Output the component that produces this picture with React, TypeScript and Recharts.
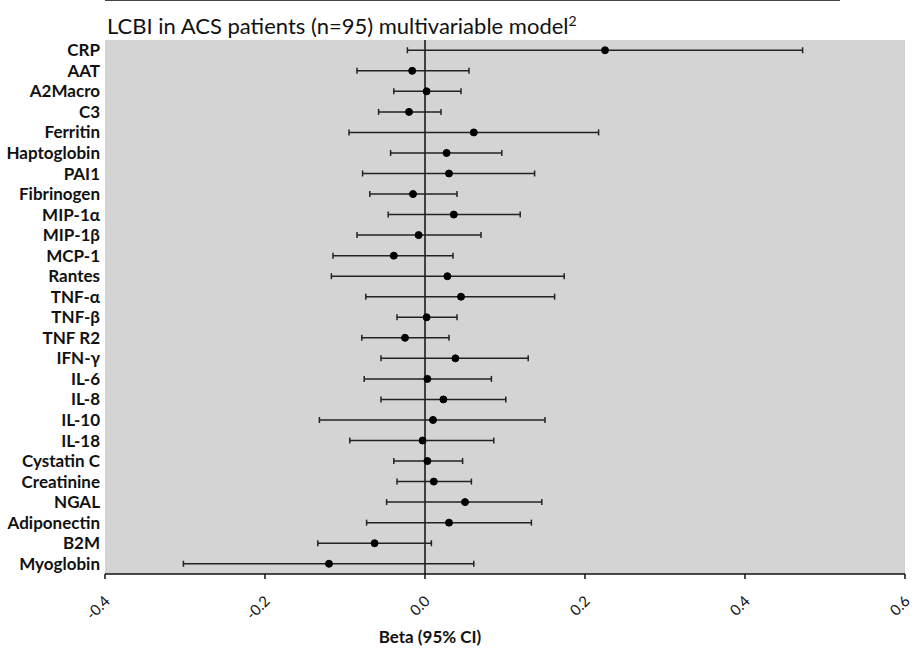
import { CartesianGrid, ComposedChart, ErrorBar, Line, ReferenceLine, XAxis, YAxis } from "recharts";

const categories = [
  "CRP", "AAT", "A2Macro", "C3", "Ferritin", "Haptoglobin", "PAI1", "Fibrinogen",
  "MIP-1α", "MIP-1β", "MCP-1", "Rantes", "TNF-α", "TNF-β", "TNF R2", "IFN-γ",
  "IL-6", "IL-8", "IL-10", "IL-18", "Cystatin C", "Creatinine", "NGAL",
  "Adiponectin", "B2M", "Myoglobin"
];

const beta = [
  0.225, -0.016, 0.002, -0.02, 0.061, 0.027, 0.03, -0.015,
  0.036, -0.008, -0.039, 0.028, 0.045, 0.002, -0.025, 0.038,
  0.003, 0.023, 0.01, -0.003, 0.003, 0.011, 0.05,
  0.03, -0.063, -0.12
];

const lower = [
  -0.022, -0.085, -0.039, -0.058, -0.095, -0.043, -0.078, -0.069,
  -0.046, -0.085, -0.115, -0.117, -0.074, -0.035, -0.079, -0.055,
  -0.076, -0.055, -0.132, -0.094, -0.039, -0.035, -0.048,
  -0.073, -0.134, -0.302
];

const upper = [
  0.472, 0.055, 0.045, 0.02, 0.217, 0.096, 0.137, 0.04,
  0.119, 0.07, 0.035, 0.174, 0.162, 0.04, 0.03, 0.129,
  0.083, 0.101, 0.15, 0.086, 0.047, 0.058, 0.146,
  0.133, 0.008, 0.061
];

const xTicks = [-0.4, -0.2, 0, 0.2, 0.4, 0.6];

const data = categories.map((name, i) => ({
  name,
  beta: beta[i],
  ci: [beta[i] - lower[i], upper[i] - beta[i]]
}));

const FONT = "Lato, 'Open Sans', sans-serif";

const XTick = (props: any) => {
  const { x, y, payload } = props;
  return (
    <g transform={`translate(${x + 6},${y + 21})`}>
      <text
        transform="rotate(-45)"
        textAnchor="end"
        fontSize={15}
        fontFamily={FONT}
        fill="#111"
      >
        {Number(payload.value).toFixed(1)}
      </text>
    </g>
  );
};

export default function App() {
  return (
    <div style={{ position: "absolute", left: 0, top: 0, width: 914, height: 648, background: "#fff" }}>
      <div style={{ position: "absolute", left: 105, top: 0, width: 735, height: 1, background: "#444" }} />
      <div
        style={{
          position: "absolute",
          left: 107,
          top: 7,
          fontSize: 22,
          lineHeight: "27px",
          fontFamily: FONT,
          color: "#111",
          whiteSpace: "nowrap"
        }}
      >
        LCBI in ACS patients (n=95) multivariable model
        <sup style={{ fontSize: 14 }}>2</sup>
      </div>
      <ComposedChart
        width={914}
        height={648}
        data={data}
        layout="vertical"
        margin={{ top: 40, right: 9, left: 0, bottom: 0 }}
      >
        <CartesianGrid horizontal={false} vertical={false} fill="#d4d4d4" />
        <XAxis
          type="number"
          domain={[-0.4, 0.6]}
          ticks={xTicks}
          height={74}
          interval={0}
          axisLine={{ stroke: "#111", strokeWidth: 1.5 }}
          tickLine={{ stroke: "#111", strokeWidth: 1.5 }}
          tickSize={5}
          tick={<XTick />}
        />
        <YAxis
          type="category"
          dataKey="name"
          scale="band"
          width={105}
          axisLine={false}
          tickLine={false}
          tickSize={0}
          tickMargin={5}
          interval={0}
          tick={{ fontSize: 17, fontWeight: 700, fontFamily: FONT, fill: "#111" }}
        />
        <ReferenceLine x={0} stroke="#111" strokeWidth={1.5} />
        <Line
          dataKey="beta"
          stroke="none"
          isAnimationActive={false}
          dot={{ r: 3.5, fill: "#000", stroke: "#000", strokeWidth: 1 }}
          activeDot={false}
        >
          <ErrorBar dataKey="ci" direction="x" width={3} stroke="#222" strokeWidth={1.5} />
        </Line>
      </ComposedChart>
      <div
        style={{
          position: "absolute",
          left: 330,
          width: 200,
          top: 626,
          textAlign: "center",
          fontSize: 17,
          fontWeight: 700,
          fontFamily: FONT,
          color: "#111"
        }}
      >
        Beta (95% CI)
      </div>
    </div>
  );
}
